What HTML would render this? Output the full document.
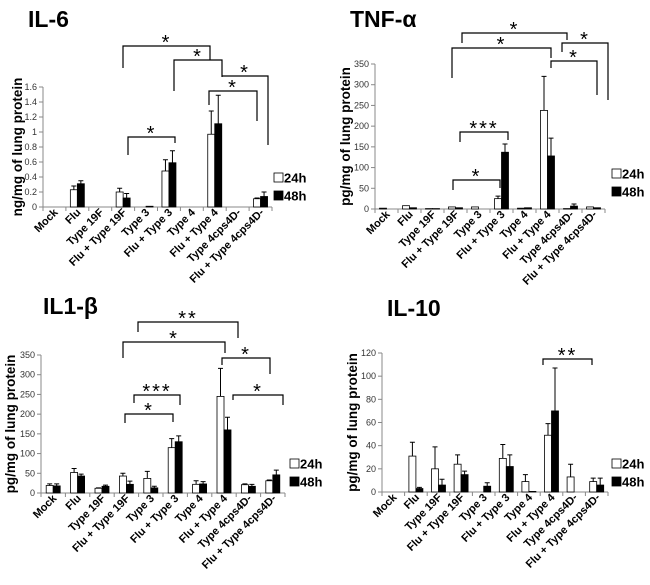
<!DOCTYPE html>
<html><head><meta charset="utf-8">
<style>
html,body{margin:0;padding:0;background:#fff;}
svg{display:block;font-family:"Liberation Sans",Arial,sans-serif;}
</style></head>
<body>
<svg id="fig" width="650" height="585" viewBox="0 0 650 585" xmlns="http://www.w3.org/2000/svg"></svg>
<script>
const categories = ["Mock","Flu","Type 19F","Flu + Type 19F","Type 3","Flu + Type 3","Type 4","Flu + Type 4","Type 4cps4D-","Flu + Type 4cps4D-"];

const il6Ticks = ["0","0.2","0.4","0.6","0.8","1","1.2","1.4","1.6"];
const il6H24 = [0,0.23,0,0.20,0,0.48,0,0.97,0,0.11];
const il6H48 = [0,0.31,0,0.12,0.01,0.59,0,1.11,0,0.14];
const il6E24 = [0,0.28,0,0.25,0,0.63,0,1.28,0,0.12];
const il6E48 = [0,0.35,0,0.18,0.01,0.75,0,1.49,0,0.20];

const tnfTicks = ["0","50","100","150","200","250","300","350"];
const tnfH24 = [2,8,1,5,5,25,2,238,1,5];
const tnfH48 = [0,3,1,3,0,137,3,128,7,3];
const tnfE24 = [2,8,1,5,5,31,2,320,1,5];
const tnfE48 = [0,3,1,3,0,157,3,171,12,3];

const il1Ticks = ["0","50","100","150","200","250","300","350"];
const il1H24 = [19,52,12,43,37,115,22,245,21,31];
const il1H48 = [18,43,17,22,13,130,23,160,17,46];
const il1E24 = [23,62,13,50,55,138,31,316,23,33];
const il1E48 = [23,48,20,30,17,145,29,192,22,58];

const il10Ticks = ["0","20","40","60","80","100","120"];
const il10H24 = [0,31,20,24,0,29,9,49,13,9];
const il10H48 = [0,3,6,15,5,22,0.5,70,0,6];
const il10E24 = [0,43,39,32,0,41,15,59,24,12];
const il10E48 = [0,4,11,18,8,32,0.5,107,0,12];

const NS="http://www.w3.org/2000/svg";
const svg=document.getElementById('fig');
function mk(tag,attrs,parent){const e=document.createElementNS(NS,tag);for(const k in attrs)e.setAttribute(k,attrs[k]);(parent||svg).appendChild(e);return e;}

function panel(cfg){
  const g=mk('g',{});
  
  
  const t=mk('text',{x:cfg.tx,y:cfg.ty,'font-size':23,'font-weight':'bold',fill:'#000'},g);
  t.textContent=cfg.title;
  
  
  const x0=cfg.x0,x1=cfg.x1,y0=cfg.y0,y1=cfg.y1,max=cfg.max;
  const n=categories.length, cw=(x1-x0)/n;
  const ys=v=>y0-(v/max)*(y0-y1);
  const xc=i=>x0+cw*(i+0.5);
  const ya=mk('line',{x1:x0,y1:y1,x2:x0,y2:y0,stroke:'#888','stroke-width':1},g);
  
  
  cfg.ticks.forEach((lab,k)=>{
    const v=parseFloat(lab); const y=ys(v);
    mk('line',{x1:x0-4,y1:y,x2:x0,y2:y,stroke:'#888'},g);
    const tl=mk('text',{x:x0-6,y:y+3,'font-size':9,'text-anchor':'end',fill:'#333'},g);
    tl.textContent=lab;
    
    
  });
  const yt=mk('text',{x:0,y:0,'font-size':13.5,'font-weight':'bold','text-anchor':'middle',transform:`translate(${cfg.ytx},${(y0+y1)/2}) rotate(-90)`},g);
  yt.textContent=cfg.ytitle;
  
  
  const xa=mk('line',{x1:x0,y1:y0,x2:x1,y2:y0,stroke:'#888'},g);
  
  
  for(let i=0;i<=n;i++){mk('line',{x1:x0+cw*i,y1:y0,x2:x0+cw*i,y2:y0+4,stroke:'#888'},g);}
  categories.forEach((c,i)=>{
    const cx=xc(i);
    const lt=mk('text',{x:0,y:0,'font-size':11,'font-weight':'bold','text-anchor':'end',transform:`translate(${cx+4},${y0+6}) rotate(-45)`},g);
    lt.textContent=c;
    
    
    const bw=7;
    [[cfg.h24,cfg.e24,cx-bw,'#fff'],[cfg.h48,cfg.e48,cx,'#000']].forEach(([h,e,bx,fill],s)=>{
      const v=h[i]; const top=ys(v);
      if(v>0){
        const r=mk('rect',{x:bx,y:top,width:bw,height:Math.max(y0-top,0.5),fill:fill,stroke:'#000','stroke-width':0.8},g);
        
        
        const ev=e[i];
        if(ev>v){
          const ex=bx+bw/2, ey=ys(ev);
          const el=mk('path',{d:`M${ex},${top}V${ey}M${ex-2.5},${ey}H${ex+2.5}`,stroke:'#000','stroke-width':1,fill:'none'},g);
          
          
        }
      }
    });
  });
  const lg=mk('g',{},g);
  
  
  [['24h','#fff',cfg.ly],['48h','#000',cfg.ly+18]].forEach(([lab,fill,ly])=>{
    mk('rect',{x:cfg.lx,y:ly-5,width:9,height:9,fill:fill,stroke:'#000','stroke-width':0.8},lg);
    const tx=mk('text',{x:cfg.lx+10,y:ly+4.5,'font-size':13,'font-weight':'bold'},lg);
    tx.textContent=lab;
    
    
  });
  cfg.brackets.forEach(b=>{
    const p=mk('path',{d:`M${b[0]},${b[3]}V${b[2]}H${b[1]}V${b[4]}`,stroke:'#000','stroke-width':1.2,fill:'none'},g);
    
    
    const st=mk('text',{x:(b[0]+b[1])/2,y:b[2]+3,'font-size':20,'text-anchor':'middle','letter-spacing':2},g);
    st.textContent=b[5];
    
    
  });
}

panel({key:'il6',title:'IL-6',tx:28,ty:27,x0:43,x1:272,y0:207,y1:87,max:1.6,ticks:il6Ticks,
  h24:il6H24,h48:il6H48,e24:il6E24,e48:il6E48,ytitle:'ng/mg of lung protein',ytx:22,lx:274,ly:178,
  brackets:[[123,210,46,68,60,'*'],[174,222,60,91,77,'*'],[222,268,76,76,145,'*'],[209,257,91,105,121,'*'],[128,175,137,155,143,'*']]});
panel({key:'tnf',title:'TNF-α',tx:350,ty:27,x0:375,x1:605,y0:209,y1:64,max:350,ticks:tnfTicks,
  h24:tnfH24,h48:tnfH48,e24:tnfE24,e48:tnfE48,ytitle:'pg/mg of lung protein',ytx:350,lx:612,ly:174,
  brackets:[[462,567,33,43,40,'*'],[452,551,48,78,58,'*'],[562,608,43,52,100,'*'],[551,597,61,68,95,'*'],[460,508,132,142,140,'***'],[453,500,180,190,188,'*']]});
panel({key:'il1b',title:'IL1-β',tx:43,ty:314,x0:41,x1:285,y0:493,y1:355,max:350,ticks:il1Ticks,
  h24:il1H24,h48:il1H48,e24:il1E24,e48:il1E48,ytitle:'pg/mg of lung protein',ytx:15,lx:290,ly:464,
  brackets:[[138,238,322,332,338,'**'],[123,225,342,358,353,'*'],[222,270,358,365,374,'*'],[134,180,395,403,405,'***'],[125,173,414,423,422,'*'],[233,283,395,400,405,'*']]});
panel({key:'il10',title:'IL-10',tx:387,ty:316,x0:382,x1:608,y0:492,y1:353,max:120,ticks:il10Ticks,
  h24:il10H24,h48:il10H48,e24:il10E24,e48:il10E48,ytitle:'pg/mg of lung protein',ytx:357,lx:612,ly:464,
  brackets:[[543,592,359,365,365,'**']]});
</script>
</body></html>
